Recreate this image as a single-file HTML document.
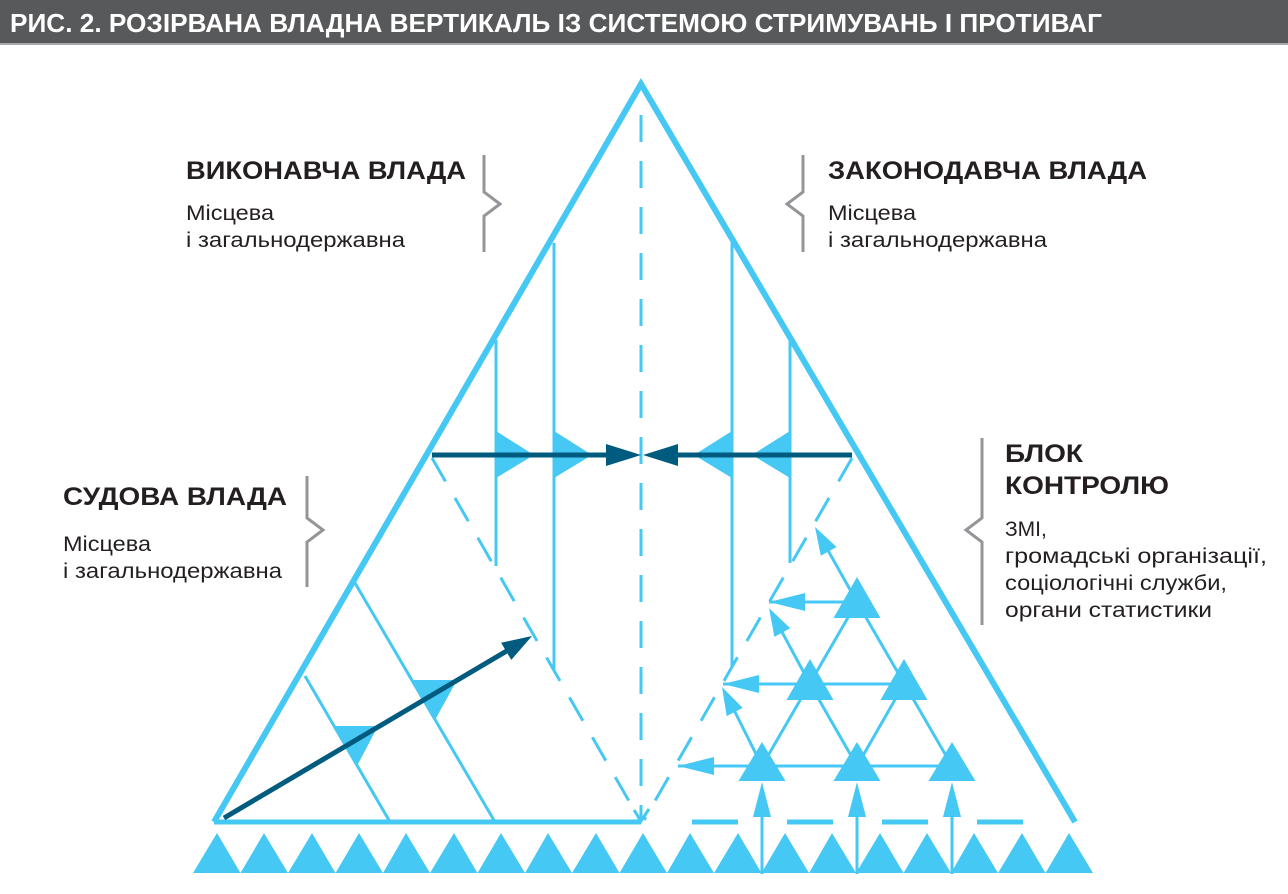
<!DOCTYPE html>
<html><head><meta charset="utf-8"><style>
html,body{margin:0;padding:0;background:#fff;}
svg{display:block;}
text{font-family:"Liberation Sans",sans-serif;}
</style></head><body>
<svg width="1288" height="894" viewBox="0 0 1288 894" xmlns="http://www.w3.org/2000/svg">
<rect x="0" y="0" width="1288" height="43" fill="#58595b"/>
<rect x="0" y="43" width="1288" height="2" fill="#a7a9ac"/>
<text x="10" y="32" font-size="26" font-weight="bold" fill="#fff" textLength="1092" lengthAdjust="spacingAndGlyphs">РИС. 2. РОЗІРВАНА ВЛАДНА ВЕРТИКАЛЬ ІЗ СИСТЕМОЮ СТРИМУВАНЬ І ПРОТИВАГ</text>

<g fill="#231f20">
<text x="186" y="179" font-size="25" font-weight="bold" textLength="280" lengthAdjust="spacingAndGlyphs">ВИКОНАВЧА ВЛАДА</text>
<text x="186" y="220" font-size="21" textLength="88" lengthAdjust="spacingAndGlyphs">Місцева</text>
<text x="186" y="247" font-size="21" textLength="219" lengthAdjust="spacingAndGlyphs">і загальнодержавна</text>
<text x="828" y="179" font-size="25" font-weight="bold" textLength="319" lengthAdjust="spacingAndGlyphs">ЗАКОНОДАВЧА ВЛАДА</text>
<text x="828" y="220" font-size="21" textLength="88" lengthAdjust="spacingAndGlyphs">Місцева</text>
<text x="828" y="247" font-size="21" textLength="219" lengthAdjust="spacingAndGlyphs">і загальнодержавна</text>
<text x="63" y="505" font-size="25" font-weight="bold" textLength="224" lengthAdjust="spacingAndGlyphs">СУДОВА ВЛАДА</text>
<text x="63" y="551" font-size="21" textLength="88" lengthAdjust="spacingAndGlyphs">Місцева</text>
<text x="63" y="578" font-size="21" textLength="219" lengthAdjust="spacingAndGlyphs">і загальнодержавна</text>
<text x="1005" y="462" font-size="25" font-weight="bold" textLength="78" lengthAdjust="spacingAndGlyphs">БЛОК</text>
<text x="1005" y="494" font-size="25" font-weight="bold" textLength="164" lengthAdjust="spacingAndGlyphs">КОНТРОЛЮ</text>
<text x="1005" y="536" font-size="21">ЗМІ,</text>
<text x="1005" y="563" font-size="21" textLength="262" lengthAdjust="spacingAndGlyphs">громадські організації,</text>
<text x="1005" y="590" font-size="21" textLength="222" lengthAdjust="spacingAndGlyphs">соціологічні служби,</text>
<text x="1005" y="617" font-size="21" textLength="207" lengthAdjust="spacingAndGlyphs">органи статистики</text>
</g>

<g fill="none" stroke="#939598" stroke-width="3">
<polyline points="484,155 484,192 500,204 484,216 484,252"/>
<polyline points="803,155 803,192 787,204 803,216 803,252"/>
<polyline points="307,476 307,518 323,530 307,542 307,587"/>
<polyline points="982,438 982,518 966,530 982,542 982,625"/>
</g>

<g stroke="#46c8f4" fill="none">
<polyline points="214,822 641,84 1075,822" stroke-width="6" stroke-linejoin="miter"/>
<line x1="214" y1="822" x2="641" y2="822" stroke-width="5"/>
<line x1="692" y1="822" x2="1024" y2="822" stroke-width="5" stroke-dasharray="46,49"/>
<line x1="641" y1="115" x2="641" y2="820" stroke-width="3" stroke-dasharray="27,19"/>
<polyline points="634,810 641,821 649,809" stroke-width="3"/>
<line x1="432" y1="458" x2="641" y2="822" stroke-width="3" stroke-dasharray="27,19"/>
<line x1="852" y1="458" x2="644" y2="820" stroke-width="3" stroke-dasharray="27,19"/>
<polyline points="496,340 496,566" stroke-width="3"/>
<polyline points="554,243 554,670" stroke-width="3"/>
<polyline points="732,243 732,668" stroke-width="3"/>
<polyline points="790,340 790,563" stroke-width="3"/>
<line x1="355" y1="583" x2="495" y2="822" stroke-width="3"/>
<line x1="305" y1="676" x2="390" y2="822" stroke-width="3"/>
<!-- lattice -->
<g stroke-width="3">
<line x1="678" y1="766" x2="952" y2="766"/>
<line x1="723" y1="684" x2="904" y2="684"/>
<line x1="769" y1="602" x2="857" y2="602"/>
<line x1="762" y1="766" x2="857" y2="602"/>
<line x1="952" y1="766" x2="857" y2="602"/>
<line x1="810" y1="684" x2="857" y2="766"/>
<line x1="904" y1="684" x2="857" y2="766"/>
<line x1="762" y1="766" x2="728" y2="698"/>
<line x1="810" y1="684" x2="775" y2="619"/>
<line x1="857" y1="602" x2="821" y2="538"/>
<line x1="762" y1="874" x2="762" y2="800"/>
<line x1="857" y1="874" x2="857" y2="800"/>
<line x1="952" y1="874" x2="952" y2="800"/>
</g>
</g>

<g fill="#46c8f4">
<polygon points="496,431 534,455 496,478"/>
<polygon points="554,431 592,455 554,478"/>
<polygon points="732,431 694,455 732,478"/>
<polygon points="790,431 752,455 790,478"/>
<polygon points="413,680 457,680 435,720"/>
<polygon points="335,726 378,726 357,766"/>
<!-- lattice triangles -->
<polygon points="762,742 738.5,781 785.5,781"/>
<polygon points="857,742 833.5,781 880.5,781"/>
<polygon points="952,742 928.5,781 975.5,781"/>
<polygon points="810,659 786.5,700 833.5,700"/>
<polygon points="904,659 880.5,700 927.5,700"/>
<polygon points="857,577 833.5,618 880.5,618"/>
<!-- arrowheads -->
<polygon points="678,766 714,757 714,775"/>
<polygon points="723,684 759,675 759,693"/>
<polygon points="769,602 805,593 805,611"/>
<polygon points="722,687 742.7,707.9 726.7,716.1"/>
<polygon points="769,608 790.2,628.3 774.4,636.9"/>
<polygon points="815,527 836.6,547 820.8,555.8"/>
<polygon points="762,782 753,817 771,817"/>
<polygon points="857,782 848,817 866,817"/>
<polygon points="952,782 943,817 961,817"/>
<!-- bottom row -->
<polygon points="193,873 217,833 240.5,873 264,833 288,873 312,833 335.5,873 359,833 383,873 406,833 430,873 454,833 477.5,873 501,833 525,873 548,833 572,873 596,833 619.5,873 643,833 667,873 690,833 714,873 738,833 761.5,873 785,833 809,873 832,833 856,873 880,833 903.5,873 927,833 951,873 974,833 998,873 1022,833 1045.5,873 1069,833 1093,873"/>
</g>

<g fill="#005b7f" stroke="#005b7f">
<line x1="432" y1="455" x2="608" y2="455" stroke-width="5"/>
<line x1="852" y1="455" x2="674" y2="455" stroke-width="5"/>
<polygon points="641,455 606,444 606,466" stroke="none"/>
<polygon points="643,455 678,444 678,466" stroke="none"/>
<line x1="224" y1="818" x2="510" y2="649" stroke-width="5"/>
<polygon points="532,636 511.3,659.9 501.1,642.7" stroke="none"/>
</g>
</svg>
</body></html>
